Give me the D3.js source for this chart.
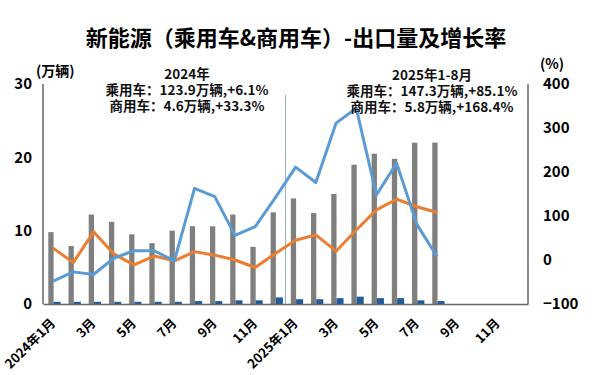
<!DOCTYPE html>
<html><head><meta charset="utf-8">
<script src="https://cdn.jsdelivr.net/npm/d3@7"></script>
<style>
html,body{margin:0;padding:0;background:#fff;}
svg{display:block;font-family:"Noto Sans CJK SC","Noto Sans",sans-serif;}
</style></head>
<body>
<script>
const months = ["2024年1月","2月","3月","4月","5月","6月","7月","8月","9月","10月","11月","12月",
                "2025年1月","2月","3月","4月","5月","6月","7月","8月","9月","10月","11月","12月"];
const passengerVol = [9.8,7.9,12.2,11.2,9.5,8.3,10.0,10.6,10.6,12.2,7.8,12.5,14.4,12.4,15.0,19.0,20.5,19.8,22.0,22.0];
const commercialVol = [0.3,0.3,0.3,0.3,0.3,0.3,0.3,0.4,0.4,0.5,0.5,0.9,0.65,0.65,0.8,1.0,0.8,0.8,0.5,0.4];
const passengerGrowth = [27,-6,64,14,-11,9,-2,19,11,0,-17,15,45,57,20,68,114,138,121,108];
const commercialGrowth = [-48,-27,-33,4,21,21,-2,163,144,56,76,142,211,176,311,345,148,220,81,8];
const leftTicks = [0,10,20,30];
const rightTicks = [-100,0,100,200,300,400];
const title = "新能源（乘用车&商用车）-出口量及增长率";
const note2024 = ["2024年","乘用车：123.9万辆,+6.1%","商用车：4.6万辆,+33.3%"];
const note2025 = ["2025年1-8月","乘用车：147.3万辆,+85.1%","商用车：5.8万辆,+168.4%"];

const W = 600, H = 375;
const L = 43, R = 528, T = 84, B = 304;
const svg = d3.select("body").append("svg").attr("width", W).attr("height", H);

const x = d3.scaleBand().domain(months.map((m,i)=>i)).range([L, R]).padding(0);
const yL = d3.scaleLinear().domain([0,30]).range([B, T]);
const yR = d3.scaleLinear().domain([-100,400]).range([B, T]);
const cx = i => x(i) + x.bandwidth()/2;

// title
svg.append("text").attr("x", 296).attr("y", 46).attr("text-anchor","middle")
  .attr("font-size", 22).attr("font-weight","bold").attr("fill","#000").text(title);

// bars
const g = svg.append("g");
g.selectAll("rect.p").data(passengerVol).join("rect").attr("class","p")
  .attr("x",(d,i)=>cx(i)-4.8).attr("width",5.3)
  .attr("y",d=>yL(d)).attr("height",d=>B-yL(d)).attr("fill","#7f7f7f");
g.selectAll("rect.c").data(commercialVol).join("rect").attr("class","c")
  .attr("x",(d,i)=>cx(i)+0.5).attr("width",7)
  .attr("y",d=>yL(d)).attr("height",d=>B-yL(d)).attr("fill","#1f5c99");

// separator
const sepX = x(12);
svg.append("line").attr("x1",sepX).attr("x2",sepX).attr("y1",95).attr("y2",B)
  .attr("stroke","#8db3e2").attr("stroke-width",1);

// lines
const line = d3.line().x((d,i)=>cx(i)).y(d=>yR(d));
svg.append("path").datum(passengerGrowth).attr("d",line).attr("fill","none")
  .attr("stroke","#ed7d31").attr("stroke-width",3).attr("stroke-linejoin","round");
svg.append("path").datum(commercialGrowth).attr("d",line).attr("fill","none")
  .attr("stroke","#5b9bd5").attr("stroke-width",3).attr("stroke-linejoin","round");

// axes
const axL = svg.append("g").attr("transform",`translate(${L},0)`)
  .call(d3.axisLeft(yL).tickValues(leftTicks).tickSize(0).tickPadding(11));
const axR = svg.append("g").attr("transform",`translate(${R},0)`)
  .call(d3.axisRight(yR).tickValues(rightTicks).tickSize(0).tickPadding(15));
const axB = svg.append("g").attr("transform",`translate(0,${B})`)
  .call(d3.axisBottom(x).tickValues(months.map((m,i)=>i).filter(i=>i%2===0))
    .tickFormat(i=>months[i]).tickSize(0));
[axL,axR,axB].forEach(a=>{
  a.select(".domain").attr("stroke","#666").attr("stroke-width",1.5);
  a.selectAll("text").attr("font-weight","bold").attr("fill","#000")
    .attr("font-family",'"Noto Sans CJK SC",sans-serif');
});
axL.selectAll("text").attr("font-size",15);
axR.selectAll("text").attr("font-size",15);
axL.select(".domain").attr("d",`M0,${T}V${B}`);
axR.select(".domain").attr("d",`M0,${T}V${B}`);
axB.selectAll("text").attr("font-size",13).attr("text-anchor","end")
  .attr("dy",0).attr("y",0)
  .attr("transform","translate(3,20) rotate(-45)");

// units
svg.append("text").attr("x",36).attr("y",76).attr("font-size",14).attr("font-weight","bold").text("(万辆)");
svg.append("text").attr("x",540).attr("y",69).attr("font-size",14).attr("font-weight","bold").text("(%)");

// annotations (one text block each, lines as tspans)
const ann = (arr, xc, y0) => {
  const t = svg.append("text").attr("x",xc).attr("y",y0).attr("text-anchor","middle")
    .attr("font-size",13.5).attr("font-weight",600).attr("fill","#111");
  arr.forEach((s,k)=>t.append("tspan").attr("x",xc).attr("dy",k===0?0:16).text(s));
};
ann(note2024, 187, 79);
ann(note2025, 432, 80);
</script>
</body></html>
